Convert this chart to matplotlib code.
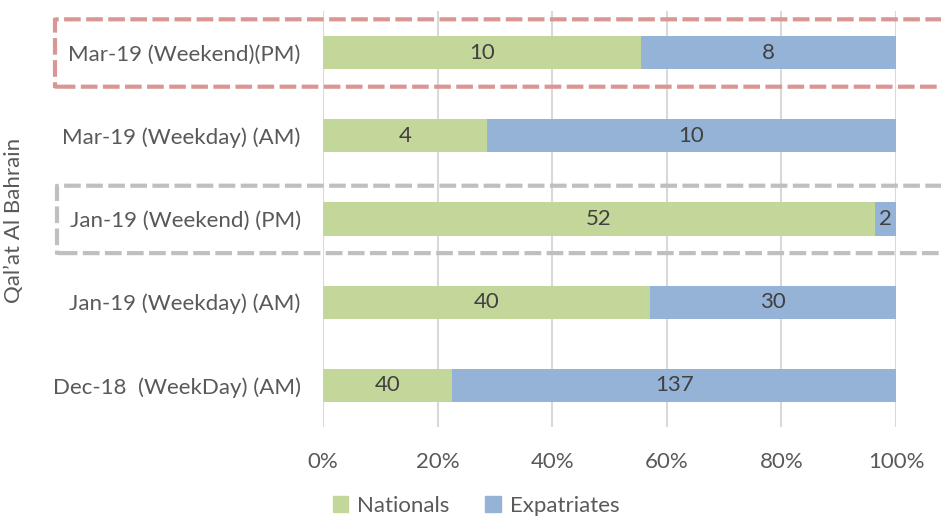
import matplotlib
matplotlib.use("Agg")
import matplotlib.pyplot as plt
from matplotlib.patches import FancyBboxPatch, Patch
from matplotlib.ticker import PercentFormatter
import matplotlib.transforms as mtransforms

plt.rcParams['font.family'] = ['Lato', 'DejaVu Sans']

categories = ["Dec-18  (WeekDay) (AM)", "Jan-19 (Weekday) (AM)", "Jan-19 (Weekend) (PM)",
              "Mar-19 (Weekday) (AM)", "Mar-19 (Weekend)(PM)"]
nationals = [40, 40, 52, 4, 10]
expatriates = [137, 30, 2, 10, 8]
series_names = ["Nationals", "Expatriates"]
axis_title = "Qal\u2019at Al Bahrain"
x_ticks = [0, 20, 40, 60, 80, 100]

green = "#C4D79B"
blue = "#95B3D7"
text_color = "#595959"
fs = 16

totals = [n + e for n, e in zip(nationals, expatriates)]
nat_pct = [100 * n / t for n, t in zip(nationals, totals)]
exp_pct = [100 * e / t for e, t in zip(expatriates, totals)]

fig = plt.figure(figsize=(9.41, 5.19), dpi=100)
ax = fig.add_axes([323 / 941, 1 - 427 / 519, (896 - 323) / 941, (427 - 11) / 519])

y = list(range(len(categories)))
ax.barh(y, nat_pct, height=0.4, color=green, label=series_names[0], zorder=2)
ax.barh(y, exp_pct, left=nat_pct, height=0.4, color=blue, label=series_names[1], zorder=2)

for i in y:
    ax.text(nat_pct[i] / 2, i, str(nationals[i]), ha="center", va="center",
            fontsize=fs, color="#404040", zorder=3)
    ax.text(nat_pct[i] + exp_pct[i] / 2, i, str(expatriates[i]), ha="center", va="center",
            fontsize=fs, color="#404040", zorder=3)

ax.set_xlim(0, 100)
ax.set_ylim(-0.5, len(categories) - 0.5)
ax.set_xticks(x_ticks)
ax.xaxis.set_major_formatter(PercentFormatter(decimals=0))
ax.set_yticks(y)
ax.set_yticklabels(categories)
ax.tick_params(axis="both", length=0, labelsize=fs, colors=text_color)
ax.tick_params(axis="y", pad=16)
ax.tick_params(axis="x", pad=18)
ax.grid(axis="x", color="#D9D9D9", linewidth=1.5, zorder=0)
for s in ax.spines.values():
    s.set_visible(False)

fig.text(14 / 941, 1 - 220 / 519, axis_title, rotation=90, ha="center", va="center",
         fontsize=fs, color=text_color)

# dashed highlight frames around the weekend rows
trans = mtransforms.blended_transform_factory(fig.transFigure, ax.transData)
def frame(cat, color, left_px):
    x0 = left_px / 941
    box = FancyBboxPatch((x0, cat - 0.41), 1.05 - x0, 0.81,
                         boxstyle="round,pad=0,rounding_size=0.004",
                         transform=trans, fill=False, edgecolor=color,
                         linewidth=3, linestyle=(0, (4, 1.3)), clip_on=False, zorder=4)
    fig.add_artist(box)

frame(4, "#DA9694", 55)
frame(2, "#BFBFBF", 57)

handles = [Patch(color=green, label=series_names[0]), Patch(color=blue, label=series_names[1])]
fig.legend(handles=handles, loc="center", bbox_to_anchor=(476 / 941, 1 - 506 / 519),
           ncol=2, frameon=False, fontsize=fs, labelcolor=text_color,
           handlelength=0.7, handleheight=0.7, handletextpad=0.4, columnspacing=1.6)

fig.savefig("out.png", dpi=100)
